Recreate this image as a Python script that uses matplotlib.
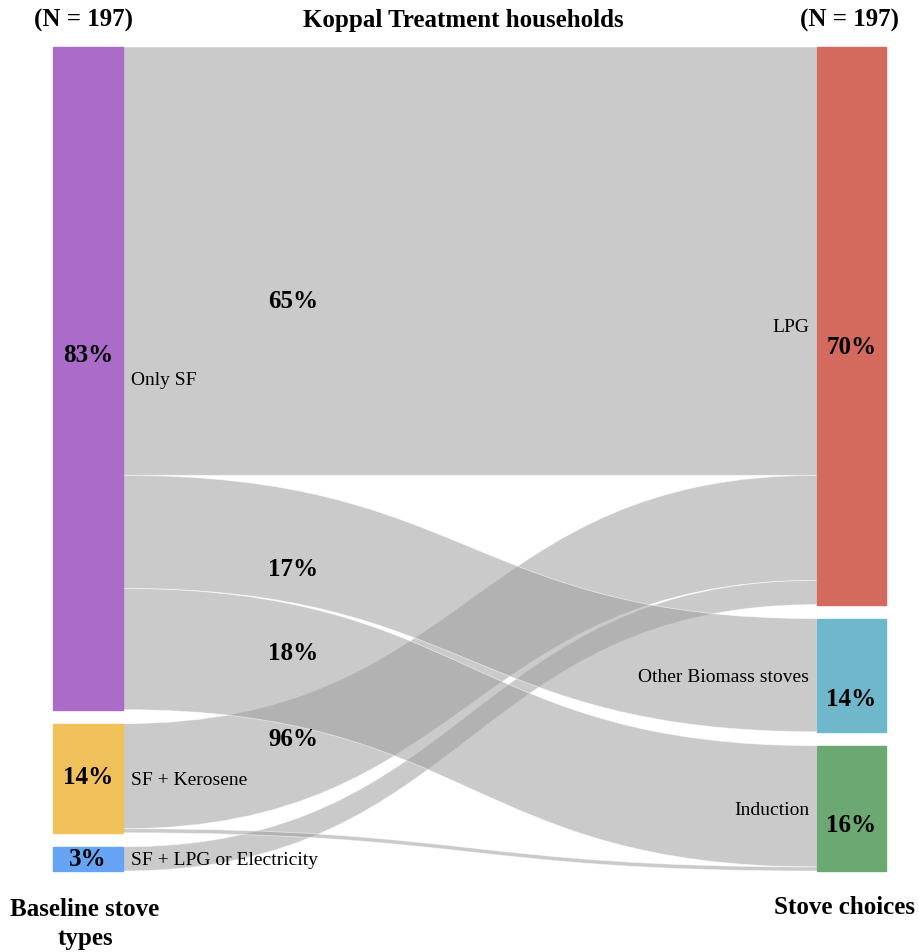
import numpy as np
import matplotlib.pyplot as plt
from matplotlib.path import Path
from matplotlib.patches import PathPatch, Rectangle

plt.rcParams['font.family'] = ['Liberation Serif', 'DejaVu Serif']

# baseline stove types (left) and stove choices (right)
sources = ["Only SF", "SF + Kerosene", "SF + LPG or Electricity"]
source_pct = ["83%", "14%", "3%"]
targets = ["LPG", "Other Biomass stoves", "Induction"]
target_pct = ["70%", "14%", "16%"]

# households per flow, rows = baseline, cols = choice (N = 197)
flows = np.array([[106, 28, 30],
                  [26, 0, 1],
                  [6, 0, 0]])
flow_labels = {(0, 0): "65%", (0, 1): "17%", (0, 2): "18%", (1, 0): "96%"}

source_colors = ["#ab6cc9", "#f0c05a", "#66a3f2"]
target_colors = ["#d4695e", "#6fb8cb", "#6ca872"]

# layout (pixels)
W, H = 919, 952
top, gap = 47, 14
xl0, xl1 = 53, 123
xr0, xr1 = 817, 886
N = flows.sum()
scale = (871 - top - 2 * gap) / N

fig = plt.figure(figsize=(W / 100, H / 100), dpi=100)
ax = fig.add_axes([0, 0, 1, 1])
ax.set_xlim(0, W)
ax.set_ylim(H, 0)
ax.axis("off")


def node_positions(totals):
    ys = []
    y = top
    for t in totals:
        ys.append((y, y + t * scale))
        y += t * scale + gap
    return ys


src_tot = flows.sum(axis=1)
tgt_tot = flows.sum(axis=0)
src_y = node_positions(src_tot)
tgt_y = node_positions(tgt_tot)

# flows
src_off = [y0 for y0, _ in src_y]
tgt_off = [y0 for y0, _ in tgt_y]
link_pos = {}
for i in range(len(sources)):
    for j in range(len(targets)):
        v = flows[i, j]
        if v == 0:
            continue
        a0 = src_off[i]
        a1 = a0 + v * scale
        src_off[i] = a1
        link_pos[(i, j)] = (a0, a1)
for j in range(len(targets)):
    for i in range(len(sources)):
        v = flows[i, j]
        if v == 0:
            continue
        b0 = tgt_off[j]
        b1 = b0 + v * scale
        tgt_off[j] = b1
        a0, a1 = link_pos[(i, j)]
        xm = (xl1 + xr0) / 2
        verts = [(xl1, a0), (xm, a0), (xm, b0), (xr0, b0),
                 (xr0, b1), (xm, b1), (xm, a1), (xl1, a1), (xl1, a0)]
        codes = [Path.MOVETO, Path.CURVE4, Path.CURVE4, Path.CURVE4,
                 Path.LINETO, Path.CURVE4, Path.CURVE4, Path.CURVE4,
                 Path.CLOSEPOLY]
        ax.add_patch(PathPatch(Path(verts, codes), facecolor="#a0a0a0",
                               alpha=0.55, edgecolor="white", lw=0.6))

# nodes
for (y0, y1), c in zip(src_y, source_colors):
    ax.add_patch(Rectangle((xl0, y0), xl1 - xl0, y1 - y0, color=c))
for (y0, y1), c in zip(tgt_y, target_colors):
    ax.add_patch(Rectangle((xr0, y0), xr1 - xr0, y1 - y0, color=c))

# node labels
for (y0, y1), name in zip(src_y, sources):
    ax.text(xl1 + 8, (y0 + y1) / 2 + 2, name, fontsize=14, ha="left", va="center")
for (y0, y1), name in zip(tgt_y, targets):
    ax.text(xr0 - 8, (y0 + y1) / 2 + 2, name, fontsize=14, ha="right", va="center")

# percentage labels on nodes
src_pct_y = [355, 777, 859]
tgt_pct_y = [348, 700, 825]
for y, p in zip(src_pct_y, source_pct):
    ax.text((xl0 + xl1) / 2, y, p, fontsize=18, weight="bold", ha="center", va="center")
for y, p in zip(tgt_pct_y, target_pct):
    ax.text((xr0 + xr1) / 2, y, p, fontsize=18, weight="bold", ha="center", va="center")

# percentage labels on flows
flow_label_y = {(0, 0): 302, (0, 1): 570, (0, 2): 653, (1, 0): 740}
for k, p in flow_labels.items():
    ax.text(293, flow_label_y[k], p, fontsize=18, weight="bold", ha="center", va="center")

# titles
ax.text(83, 20, "(N = 197)", fontsize=18, weight="bold", ha="center", va="center")
ax.text(463, 20, "Koppal Treatment households", fontsize=18, weight="bold", ha="center", va="center")
ax.text(850, 20, "(N = 197)", fontsize=18, weight="bold", ha="center", va="center")
ax.text(85, 924, "Baseline stove\ntypes", fontsize=18, weight="bold", ha="center", va="center",
        linespacing=1.3)
ax.text(845, 907, "Stove choices", fontsize=18, weight="bold", ha="center", va="center")

fig.savefig("out.png", dpi=100)
